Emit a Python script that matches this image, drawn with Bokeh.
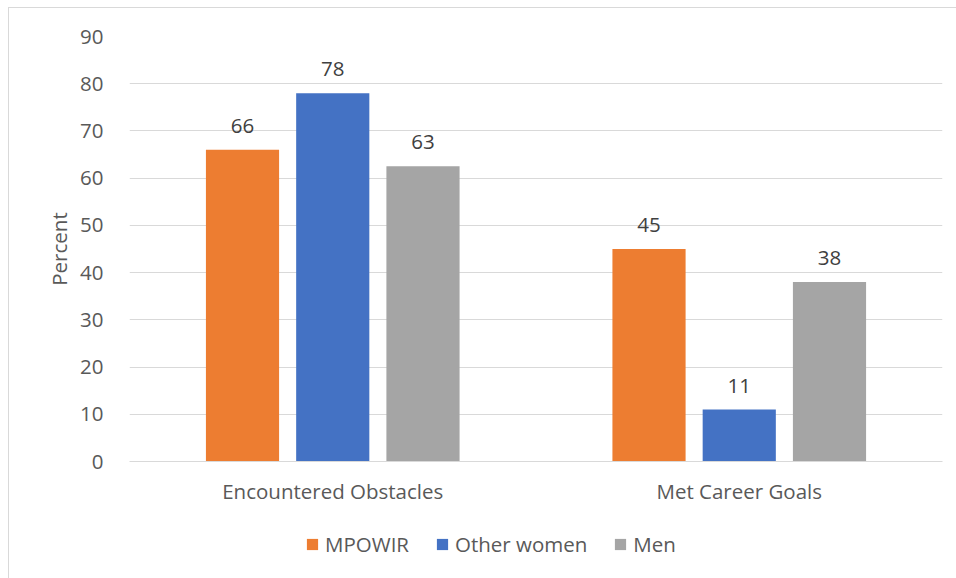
from bokeh.plotting import figure
from bokeh.layouts import column
from bokeh.models import ColumnDataSource, LabelSet, Legend, LegendItem, FactorRange, SingleIntervalTicker
from bokeh.transform import dodge
from bokeh.core.properties import value
from bokeh.embed import file_html
from bokeh.resources import INLINE

categories = ["Encountered Obstacles", "Met Career Goals"]
series = ["MPOWIR", "Other women", "Men"]
mpowir = [66, 45]
other_women = [78, 11]
men = [62.5, 38]
labels_mpowir = ["66", "45"]
labels_other = ["78", "11"]
labels_men = ["63", "38"]
colors = ["#ED7D31", "#4472C4", "#A5A5A5"]

FONT = "Open Sans"
TXT = "#595959"
FS = "20.5px"
BORDER = "1px solid #D9D9D9"

src = ColumnDataSource(dict(cat=categories, mpowir=mpowir, other=other_women, men=men,
                            lm=labels_mpowir, lo=labels_other, ln=labels_men))

p = figure(x_range=FactorRange(*categories), y_range=(0, 90),
           frame_width=812, frame_height=424, output_backend="svg", toolbar_location=None,
           min_border_left=120, min_border_right=16, min_border_top=28, min_border_bottom=60)
p.margin = (7, 0, 0, 8)
p.styles = {"border-left": BORDER, "border-top": BORDER}
p.outline_line_color = None

offs = [-0.222, 0.0, 0.222]
keys = ["mpowir", "other", "men"]
lkeys = ["lm", "lo", "ln"]
for k, lk, off, c in zip(keys, lkeys, offs, colors):
    p.vbar(x=dodge("cat", off, range=p.x_range), top=k, width=0.18, source=src,
           fill_color=c, line_color=None)
    p.add_layout(LabelSet(x=dodge("cat", off, range=p.x_range), y=k, text=lk, source=src,
                          text_align="center", text_baseline="bottom", y_offset=17,
                          text_font=value(FONT), text_font_size=FS, text_color="#404040"))

p.yaxis.ticker = SingleIntervalTicker(interval=10)
p.yaxis.axis_line_color = None
p.yaxis.major_tick_line_color = None
p.yaxis.minor_tick_line_color = None
p.yaxis.major_label_text_font = FONT
p.yaxis.major_label_text_font_size = FS
p.yaxis.major_label_text_color = TXT
p.yaxis.major_label_standoff = 20
p.yaxis.axis_label = "Percent"
p.yaxis.axis_label_text_font = FONT
p.yaxis.axis_label_text_font_size = FS
p.yaxis.axis_label_text_font_style = "normal"
p.yaxis.axis_label_text_color = TXT
p.yaxis.axis_label_standoff = 4

p.xaxis.axis_line_color = "#D9D9D9"
p.xaxis.major_tick_line_color = None
p.xaxis.minor_tick_line_color = None
p.xaxis.major_label_text_font = FONT
p.xaxis.major_label_text_font_size = FS
p.xaxis.major_label_text_color = TXT
p.xaxis.major_label_standoff = 9

p.xgrid.grid_line_color = None
p.ygrid.grid_line_color = "#D9D9D9"

# legend strip below the chart (hidden proxy renderers carry the legend swatches)
p2 = figure(frame_width=947, frame_height=58, x_range=(0, 1), y_range=(0, 1),
            output_backend="svg", toolbar_location=None,
            min_border_left=0, min_border_right=0, min_border_top=0, min_border_bottom=0)
p2.margin = (0, 0, 0, 8)
p2.styles = {"border-left": BORDER}
p2.outline_line_color = None
p2.axis.visible = False
p2.grid.visible = False
rends = [p2.vbar(x=0.5, top=k, width=0.1, source=src, fill_color=c, line_color=None, visible=False)
         for k, c in zip(keys, colors)]
legend = Legend(items=[LegendItem(label=s, renderers=[r]) for s, r in zip(series, rends)],
                orientation="horizontal", location=(296, 20),
                label_text_font=FONT, label_text_font_size=FS, label_text_color=TXT,
                glyph_width=14, glyph_height=14, spacing=26, label_standoff=6,
                border_line_color=None, background_fill_alpha=0, margin=0, padding=0)
p2.add_layout(legend, "center")

layout = column(p, p2, spacing=0)
open("out.html", "w").write(file_html(layout, INLINE))
